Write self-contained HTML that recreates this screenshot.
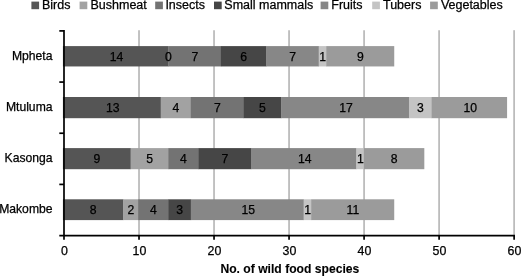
<!DOCTYPE html>
<html><head><meta charset="utf-8"><style>
html,body{margin:0;padding:0;background:#fff;}
svg{display:block;filter:blur(0.3px);font-family:"Liberation Sans",Arial,Helvetica,sans-serif;}
text{stroke:#000;stroke-width:0.25px;}
</style></head><body>
<svg width="521" height="276" viewBox="0 0 521 276">
<rect width="521" height="276" fill="#fff"/>
<g stroke="#bcbcbc" stroke-width="1.8">
<line x1="139.02" y1="30.2" x2="139.02" y2="235.6"/>
<line x1="214.04" y1="30.2" x2="214.04" y2="235.6"/>
<line x1="289.06" y1="30.2" x2="289.06" y2="235.6"/>
<line x1="364.08" y1="30.2" x2="364.08" y2="235.6"/>
<line x1="439.10" y1="30.2" x2="439.10" y2="235.6"/>
<line x1="514.12" y1="30.2" x2="514.12" y2="235.6"/>
</g>
<g>
<rect x="62.92" y="46.1" width="105.62" height="20.35" fill="#555555"/>
<rect x="168.24" y="46.1" width="52.96" height="20.35" fill="#737373"/>
<rect x="220.90" y="46.1" width="45.44" height="20.35" fill="#464646"/>
<rect x="266.04" y="46.1" width="52.96" height="20.35" fill="#878787"/>
<rect x="318.70" y="46.1" width="7.82" height="20.35" fill="#c4c4c4"/>
<rect x="326.23" y="46.1" width="68.01" height="20.35" fill="#9b9b9b"/>
</g>
<g>
<rect x="62.92" y="97.0" width="98.10" height="21.20" fill="#555555"/>
<rect x="160.72" y="97.0" width="30.39" height="21.20" fill="#a2a2a2"/>
<rect x="190.81" y="97.0" width="52.96" height="21.20" fill="#737373"/>
<rect x="243.47" y="97.0" width="37.91" height="21.20" fill="#464646"/>
<rect x="281.09" y="97.0" width="128.19" height="21.20" fill="#878787"/>
<rect x="408.98" y="97.0" width="22.87" height="21.20" fill="#c4c4c4"/>
<rect x="431.55" y="97.0" width="75.53" height="21.20" fill="#9b9b9b"/>
</g>
<g>
<rect x="62.92" y="148.1" width="68.01" height="21.10" fill="#555555"/>
<rect x="130.63" y="148.1" width="37.91" height="21.10" fill="#a2a2a2"/>
<rect x="168.24" y="148.1" width="30.39" height="21.10" fill="#737373"/>
<rect x="198.33" y="148.1" width="52.96" height="21.10" fill="#464646"/>
<rect x="251.00" y="148.1" width="105.62" height="21.10" fill="#878787"/>
<rect x="356.32" y="148.1" width="7.82" height="21.10" fill="#c4c4c4"/>
<rect x="363.84" y="148.1" width="60.48" height="21.10" fill="#9b9b9b"/>
</g>
<g>
<rect x="62.92" y="199.3" width="60.48" height="20.80" fill="#555555"/>
<rect x="123.10" y="199.3" width="15.35" height="20.80" fill="#a2a2a2"/>
<rect x="138.15" y="199.3" width="30.39" height="20.80" fill="#737373"/>
<rect x="168.24" y="199.3" width="22.87" height="20.80" fill="#464646"/>
<rect x="190.81" y="199.3" width="113.14" height="20.80" fill="#878787"/>
<rect x="303.66" y="199.3" width="7.82" height="20.80" fill="#c4c4c4"/>
<rect x="311.18" y="199.3" width="83.05" height="20.80" fill="#9b9b9b"/>
</g>
<g stroke="#000" stroke-width="1.7" fill="none">
<line x1="64" y1="30.05" x2="64" y2="239.7"/>
<line x1="59.3" y1="30.9" x2="64" y2="30.9"/>
<line x1="59.3" y1="82.07" x2="64" y2="82.07"/>
<line x1="59.3" y1="133.24" x2="64" y2="133.24"/>
<line x1="59.3" y1="184.41" x2="64" y2="184.41"/>
<line x1="59.3" y1="235.6" x2="514.95" y2="235.6"/>
<line x1="139.02" y1="235.6" x2="139.02" y2="239.7"/>
<line x1="214.04" y1="235.6" x2="214.04" y2="239.7"/>
<line x1="289.06" y1="235.6" x2="289.06" y2="239.7"/>
<line x1="364.08" y1="235.6" x2="364.08" y2="239.7"/>
<line x1="439.10" y1="235.6" x2="439.10" y2="239.7"/>
<line x1="514.12" y1="235.6" x2="514.12" y2="239.7"/>
</g>
<g font-size="12.5px" fill="#000">
<rect x="31.4" y="1.6" width="7.7" height="7.6" fill="#555555"/><text x="42" y="8.6">Birds</text>
<rect x="79.6" y="1.6" width="7.7" height="7.6" fill="#a2a2a2"/><text x="90.5" y="8.6">Bushmeat</text>
<rect x="155.2" y="1.6" width="7.7" height="7.6" fill="#737373"/><text x="165.4" y="8.6">Insects</text>
<rect x="214.0" y="1.6" width="7.7" height="7.6" fill="#464646"/><text x="224.3" y="8.6">Small mammals</text>
<rect x="320.6" y="1.6" width="7.7" height="7.6" fill="#878787"/><text x="331.3" y="8.6">Fruits</text>
<rect x="372.2" y="1.6" width="7.7" height="7.6" fill="#c4c4c4"/><text x="383.0" y="8.6">Tubers</text>
<rect x="430.1" y="1.6" width="7.7" height="7.6" fill="#9b9b9b"/><text x="440.9" y="8.6">Vegetables</text>
</g>
<g font-size="12.15px" fill="#000" text-anchor="end">
<text x="52.5" y="59.9">Mpheta</text>
<text x="52.5" y="110.8">Mtuluma</text>
<text x="52.5" y="162.0">Kasonga</text>
<text x="52.5" y="213.05">Makombe</text>
</g>
<g font-size="12.4px" fill="#000" text-anchor="middle">
<text x="64.40" y="255">0</text>
<text x="139.42" y="255">10</text>
<text x="214.44" y="255">20</text>
<text x="289.46" y="255">30</text>
<text x="364.48" y="255">40</text>
<text x="439.50" y="255">50</text>
<text x="514.52" y="255">60</text>
</g>
<text x="289.9" y="273.3" font-size="12.15px" font-weight="bold" style="stroke-width:0.1px" text-anchor="middle">No. of wild food species</text>
<g font-size="12.2px" fill="#000" text-anchor="middle">
<text x="116.58" y="60.53">14</text>
<text x="168.44" y="60.53">0</text>
<text x="194.77" y="60.53">7</text>
<text x="243.67" y="60.53">6</text>
<text x="292.57" y="60.53">7</text>
<text x="322.66" y="60.53">1</text>
<text x="360.28" y="60.53">9</text>
<text x="112.82" y="111.85">13</text>
<text x="175.96" y="111.85">4</text>
<text x="217.34" y="111.85">7</text>
<text x="262.48" y="111.85">5</text>
<text x="346.03" y="111.85">17</text>
<text x="420.46" y="111.85">3</text>
<text x="470.16" y="111.85">10</text>
<text x="96.97" y="162.90">9</text>
<text x="149.63" y="162.90">5</text>
<text x="183.49" y="162.90">4</text>
<text x="224.86" y="162.90">7</text>
<text x="304.66" y="162.90">14</text>
<text x="360.28" y="162.90">1</text>
<text x="394.13" y="162.90">8</text>
<text x="93.21" y="213.95">8</text>
<text x="130.83" y="213.95">2</text>
<text x="153.40" y="213.95">4</text>
<text x="179.73" y="213.95">3</text>
<text x="248.23" y="213.95">15</text>
<text x="307.62" y="213.95">1</text>
<text x="352.86" y="213.95">11</text>
</g>
</svg>
</body></html>
